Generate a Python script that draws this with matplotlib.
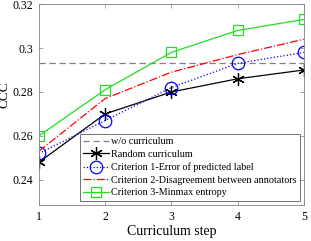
import matplotlib
matplotlib.use('Agg')
import matplotlib.pyplot as plt

plt.rcParams['font.family'] = ['Liberation Serif', 'DejaVu Serif']

steps = [1, 2, 3, 4, 5]
wo_curriculum = 0.293
random_cur = [0.248, 0.270, 0.280, 0.286, 0.290]
crit1 = [0.252, 0.267, 0.282, 0.293, 0.298]
crit2 = [0.253, 0.277, 0.289, 0.297, 0.304]
crit3 = [0.260, 0.281, 0.298, 0.308, 0.313]

fig = plt.figure(figsize=(3.11, 2.41), dpi=100)
ax = fig.add_axes([0.125, 0.149, 0.852, 0.834])

ax.axhline(wo_curriculum, color='#808080', ls=(0, (5, 3)), lw=0.9, label='w/o curriculum')
ax.plot(steps, random_cur, color='black', lw=0.9, marker=(6, 2, 0), ms=9, mew=0.9,
        label='Random curriculum')
ax.plot(steps, crit1, color='blue', ls=':', lw=0.9, marker='o', ms=9, mfc='none', mew=0.9,
        label='Criterion 1-Error of predicted label')
ax.plot(steps, crit2, color='red', ls='-.', lw=0.9, label='Criterion 2-Disagreement between annotators')
ax.plot(steps, crit3, color='#22dd22', lw=0.9, marker='s', ms=7, mfc='none', mew=0.9,
        label='Criterion 3-Minmax entropy')

ax.set_xlim(1, 5)
ax.set_ylim(0.2285, 0.32)
ax.set_xticks(steps)
ax.set_yticks([0.24, 0.26, 0.28, 0.3, 0.32])
ax.set_yticklabels(['0.24', '0.26', '0.28', '0.3', '0.32'])
ax.tick_params(direction='in', length=3, width=0.5, color='#808080', labelsize=8.5,
               top=True, right=True, pad=4)
for s in ax.spines.values():
    s.set_color('#808080')
    s.set_linewidth(0.6)
ax.set_xlabel('Curriculum step', fontsize=10, labelpad=2)
ax.set_ylabel('CCC', fontsize=9.5)
ax.yaxis.set_label_coords(-0.107, 0.55)

leg = ax.legend(loc='lower right', fontsize=7.3, frameon=True, fancybox=False, borderpad=0.35,
                labelspacing=0.35, handlelength=2.5, handletextpad=0.2, borderaxespad=0.4)
leg.get_frame().set_edgecolor('#333333')
leg.get_frame().set_linewidth(0.6)

fig.savefig('out.png', dpi=100)
